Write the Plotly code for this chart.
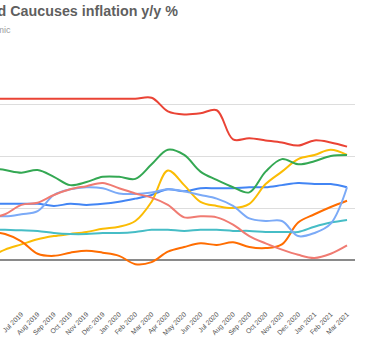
import plotly.graph_objects as go

months = ["May 2019", "Jun 2019", "Jul 2019", "Aug 2019", "Sep 2019", "Oct 2019", "Nov 2019",
          "Dec 2019", "Jan 2020", "Feb 2020", "Mar 2020", "Apr 2020", "May 2020", "Jun 2020",
          "Jul 2020", "Aug 2020", "Sep 2020", "Oct 2020", "Nov 2020", "Dec 2020", "Jan 2021",
          "Feb 2021", "Mar 2021"]

blue = [5.4, 5.4, 5.4, 5.4, 5.2, 5.4, 5.3, 5.4, 5.6, 5.9, 6.25, 6.8, 6.6, 6.9, 6.9, 6.9, 7.0, 7.0, 7.2, 7.4, 7.3, 7.3, 7.0]
red = [15.5, 15.5, 15.5, 15.5, 15.5, 15.5, 15.5, 15.5, 15.5, 15.5, 15.6, 14.3, 14.0, 14.1, 14.4, 11.6, 11.7, 11.5, 11.3, 11.0, 11.5, 11.3, 10.9]
yellow = [0.2, 1.0, 1.5, 2.0, 2.3, 2.5, 2.7, 3.0, 3.2, 3.75, 5.6, 8.6, 7.2, 5.6, 5.2, 5.0, 5.4, 7.3, 8.5, 9.7, 10.1, 10.6, 10.1]
green = [8.85, 8.65, 8.4, 8.65, 8.0, 7.2, 7.5, 8.0, 8.0, 7.8, 9.2, 10.6, 10.1, 8.5, 7.7, 7.0, 6.5, 8.5, 9.7, 9.2, 9.5, 10.0, 10.1]
orange = [2.7, 2.5, 1.8, 0.6, 0.4, 0.7, 0.9, 0.7, 0.4, -0.4, -0.2, 0.8, 1.25, 1.6, 1.45, 1.7, 1.25, 1.15, 1.5, 3.6, 4.4, 5.1, 5.7]
teal = [2.9, 2.9, 2.85, 2.8, 2.6, 2.5, 2.5, 2.6, 2.6, 2.7, 2.9, 2.9, 2.8, 2.9, 2.9, 2.8, 2.8, 2.7, 2.7, 2.7, 3.2, 3.6, 3.85]
light_blue = [4.3, 4.2, 4.4, 4.7, 6.25, 6.8, 7.0, 6.9, 6.4, 6.35, 6.5, 6.8, 6.6, 6.25, 5.9, 5.2, 4.0, 3.75, 3.75, 2.3, 2.6, 3.5, 7.0]
light_red = [4.0, 4.4, 5.3, 5.5, 6.25, 6.8, 7.1, 7.4, 6.9, 6.4, 6.0, 5.3, 4.1, 4.2, 4.1, 3.4, 2.3, 1.6, 1.0, 0.5, 0.2, 0.6, 1.4]

y_ticks = [-5, 0, 5, 10, 15, 20]

series = [
    ("Series 1", blue, "#4285F4"),
    ("Series 2", red, "#EA4335"),
    ("Series 3", yellow, "#FBBC04"),
    ("Series 4", green, "#34A853"),
    ("Series 5", orange, "#FF6D01"),
    ("Series 6", teal, "#46BDC6"),
    ("Series 7", light_blue, "#7BAAF7"),
    ("Series 8", light_red, "#F07B72"),
]

idx = list(range(-1, len(months) - 1))

fig = go.Figure()
for name, vals, col in series:
    fig.add_trace(go.Scatter(x=idx, y=vals, name=name, mode="lines",
                             line=dict(color=col, width=2, shape="spline", smoothing=1.0),
                             showlegend=False, hoverinfo="skip"))

fig.update_layout(
    width=370, height=355,
    margin=dict(l=0, r=15, t=52, b=43),
    paper_bgcolor="white", plot_bgcolor="white",
    font=dict(family="Liberation Sans, Arial, sans-serif"),
    xaxis=dict(range=[-0.31, 21.49], tickmode="array", tickvals=idx, ticktext=months,
               tickangle=-45, tickfont=dict(size=6.8, color="#555555"), showgrid=False,
               zeroline=False, showline=False, ticks="", automargin=False,
               ticklabelstandoff=-4),
    yaxis=dict(range=[-5, 20], tickvals=y_ticks, showticklabels=False, showgrid=True,
               gridcolor="#dddddd", gridwidth=1, zeroline=True, zerolinecolor="#8a8a8a",
               zerolinewidth=1.5, showline=False, ticks="", automargin=False),
    annotations=[
        dict(text="<b>Central Asia and Caucuses inflation y/y %</b>", xref="paper", yref="paper",
             x=180 / 355, y=(312 - 11) / 260, xanchor="right", yanchor="middle",
             showarrow=False, font=dict(size=14.3, color="#5f5f5f")),
        dict(text="Pre and post pandemic", xref="paper", yref="paper",
             x=13 / 355, y=(312 - 30) / 260, xanchor="right", yanchor="middle",
             showarrow=False, font=dict(size=9, color="#9a9a9a")),
    ],
)

fig.write_html("out.html", config={"displayModeBar": False, "staticPlot": True},
               post_script="document.body.style.margin='0';document.body.style.padding='0';")
